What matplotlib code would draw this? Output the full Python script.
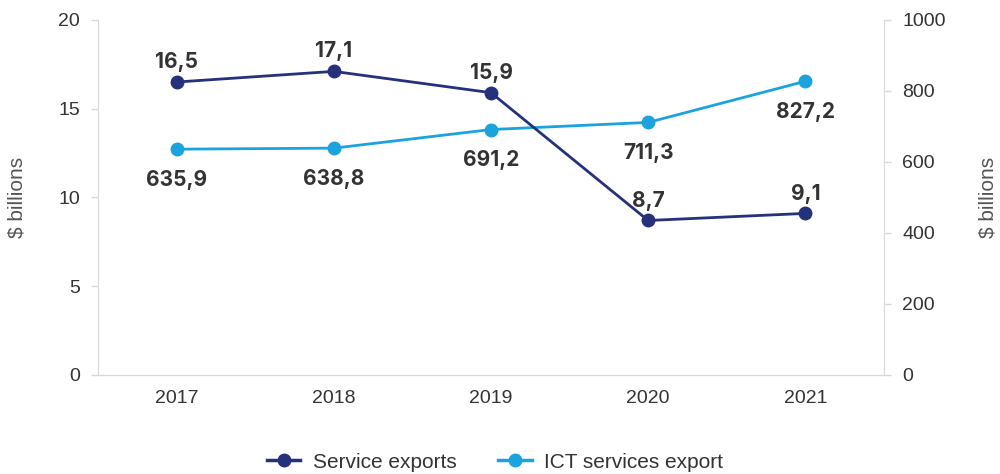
import matplotlib
matplotlib.use("Agg")
import matplotlib.pyplot as plt
from matplotlib.lines import Line2D

years = ["2017", "2018", "2019", "2020", "2021"]
service_exports = [16.5, 17.1, 15.9, 8.7, 9.1]
ict_exports = [635.9, 638.8, 691.2, 711.3, 827.2]
service_labels = ["16,5", "17,1", "15,9", "8,7", "9,1"]
ict_labels = ["635,9", "638,8", "691,2", "711,3", "827,2"]

navy = "#25317a"
light = "#1ba3de"
txt = "#333333"
grid = "#d9d9d9"

plt.rcParams['font.family'] = ['Liberation Sans', 'DejaVu Sans']
fig = plt.figure(figsize=(10, 4.74), dpi=100)
ax = fig.add_axes([0.098, 0.209, 0.786, 0.749])
ax2 = ax.twinx()

x = list(range(len(years)))
ax2.plot(x, ict_exports, color=light, lw=2, marker='o', ms=9, zorder=3)
ax.plot(x, service_exports, color=navy, lw=2, marker='o', ms=9, zorder=4)
ax.set_zorder(ax2.get_zorder() + 1)
ax.patch.set_visible(False)

lab_font = dict(fontsize=15, fontweight='bold', color=txt, family=['Inter', 'Liberation Sans'])
for i, (v, l) in enumerate(zip(service_exports, service_labels)):
    ax.annotate(l, (i, v), xytext=(0, 10), textcoords='offset points', ha='center', va='baseline',
                **lab_font)
for i, (v, l) in enumerate(zip(ict_exports, ict_labels)):
    ax2.annotate(l, (i, v), xytext=(0, -15), textcoords='offset points', ha='center', va='top',
                 **lab_font)

ax.set_xlim(-0.5, 4.5)
ax.set_ylim(0, 20)
ax2.set_ylim(0, 1000)
ax.set_xticks(x)
ax.set_xticklabels(years)
ax.set_yticks([0, 5, 10, 15, 20])
ax2.set_yticks([0, 200, 400, 600, 800, 1000])

for a in (ax, ax2):
    a.spines['top'].set_visible(False)
    a.spines['left'].set_color(grid)
    a.spines['right'].set_color(grid)
    a.spines['bottom'].set_color(grid)
    a.tick_params(axis='y', colors=grid, labelcolor=txt, labelsize=14, length=5, width=1, pad=8)
ax.spines['right'].set_visible(False)
ax2.spines['left'].set_visible(False)
ax.tick_params(axis='x', length=0, labelsize=14, labelcolor=txt, pad=11)

ax.set_ylabel("$ billions", fontsize=15, color="#555555", va='center')
ax2.set_ylabel("$ billions", fontsize=15, color="#555555", rotation=90, va='center')
ax.yaxis.set_label_coords((17 - 98) / 786, 0.5)
ax2.yaxis.set_label_coords((988 - 98) / 786, 0.5)

handles = [Line2D([0], [0], color=navy, lw=2.5, marker='o', ms=9),
           Line2D([0], [0], color=light, lw=2.5, marker='o', ms=9)]
fig.legend(handles, ["Service exports", "ICT services export"], loc='center',
           bbox_to_anchor=(0.495, 0.025), ncol=2, frameon=False, fontsize=15,
           handlelength=1.6, columnspacing=2.0, handletextpad=0.6, labelcolor=txt)

fig.savefig("out.png", dpi=100)
